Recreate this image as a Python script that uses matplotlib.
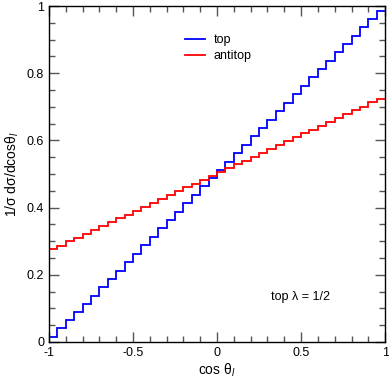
import numpy as np
import matplotlib.pyplot as plt
from matplotlib.ticker import MultipleLocator

plt.rcParams['font.family'] = ['Liberation Sans', 'DejaVu Sans']
plt.rcParams['mathtext.fontset'] = 'custom'
plt.rcParams['mathtext.rm'] = 'Liberation Sans'
plt.rcParams['mathtext.it'] = 'Liberation Sans:italic'

# 40 bins of cos(theta_l) from -1 to 1
edges = np.linspace(-1, 1, 41)

top = [0.015, 0.040, 0.066, 0.089, 0.113, 0.138, 0.163, 0.188, 0.212, 0.238,
       0.263, 0.288, 0.313, 0.338, 0.362, 0.388, 0.413, 0.437, 0.463, 0.488,
       0.512, 0.537, 0.562, 0.587, 0.612, 0.637, 0.662, 0.688, 0.712, 0.737,
       0.762, 0.788, 0.812, 0.837, 0.862, 0.887, 0.912, 0.937, 0.962, 0.986]

antitop = [0.276, 0.287, 0.299, 0.310, 0.322, 0.333, 0.345, 0.356, 0.368, 0.379,
           0.391, 0.402, 0.414, 0.425, 0.437, 0.448, 0.460, 0.471, 0.483, 0.494,
           0.506, 0.517, 0.529, 0.540, 0.552, 0.563, 0.575, 0.586, 0.598, 0.609,
           0.621, 0.632, 0.644, 0.655, 0.667, 0.678, 0.690, 0.701, 0.713, 0.724]

fig = plt.figure(figsize=(3.89, 3.82), dpi=100)
ax = fig.add_axes([0.126, 0.105, 0.864, 0.879])

ax.stairs(top, edges, baseline=None, color='#0000ff', lw=1.3, label='top')
ax.stairs(antitop, edges, baseline=None, color='#ff0000', lw=1.3, label='antitop')

ax.set_xlim(-1, 1)
ax.set_ylim(0, 1)
ax.xaxis.set_major_locator(MultipleLocator(0.5))
ax.xaxis.set_minor_locator(MultipleLocator(0.1))
ax.yaxis.set_major_locator(MultipleLocator(0.2))
ax.yaxis.set_minor_locator(MultipleLocator(0.05))
ax.xaxis.set_major_formatter(lambda v, p: '%g' % v)
ax.yaxis.set_major_formatter(lambda v, p: '%g' % v)
ax.tick_params(which='both', direction='in', top=True, right=True,
               labelsize=9, color='#555555')
ax.tick_params(which='major', length=7, width=1)
ax.tick_params(which='minor', length=4, width=1)
for s in ax.spines.values():
    s.set_linewidth(1)

ax.set_xlabel('cos θ$_l$', fontsize=10, labelpad=2)
ax.set_ylabel('1/σ dσ/dcosθ$_l$', fontsize=10, labelpad=4)

ax.legend(loc='upper left', bbox_to_anchor=(0.37, 0.95), frameon=False,
          fontsize=9, handlelength=1.6, handletextpad=0.7, labelspacing=0.3)
ax.text(0.66, 0.125, 'top λ = 1/2', transform=ax.transAxes, fontsize=9)

fig.savefig('out.png', dpi=100)
